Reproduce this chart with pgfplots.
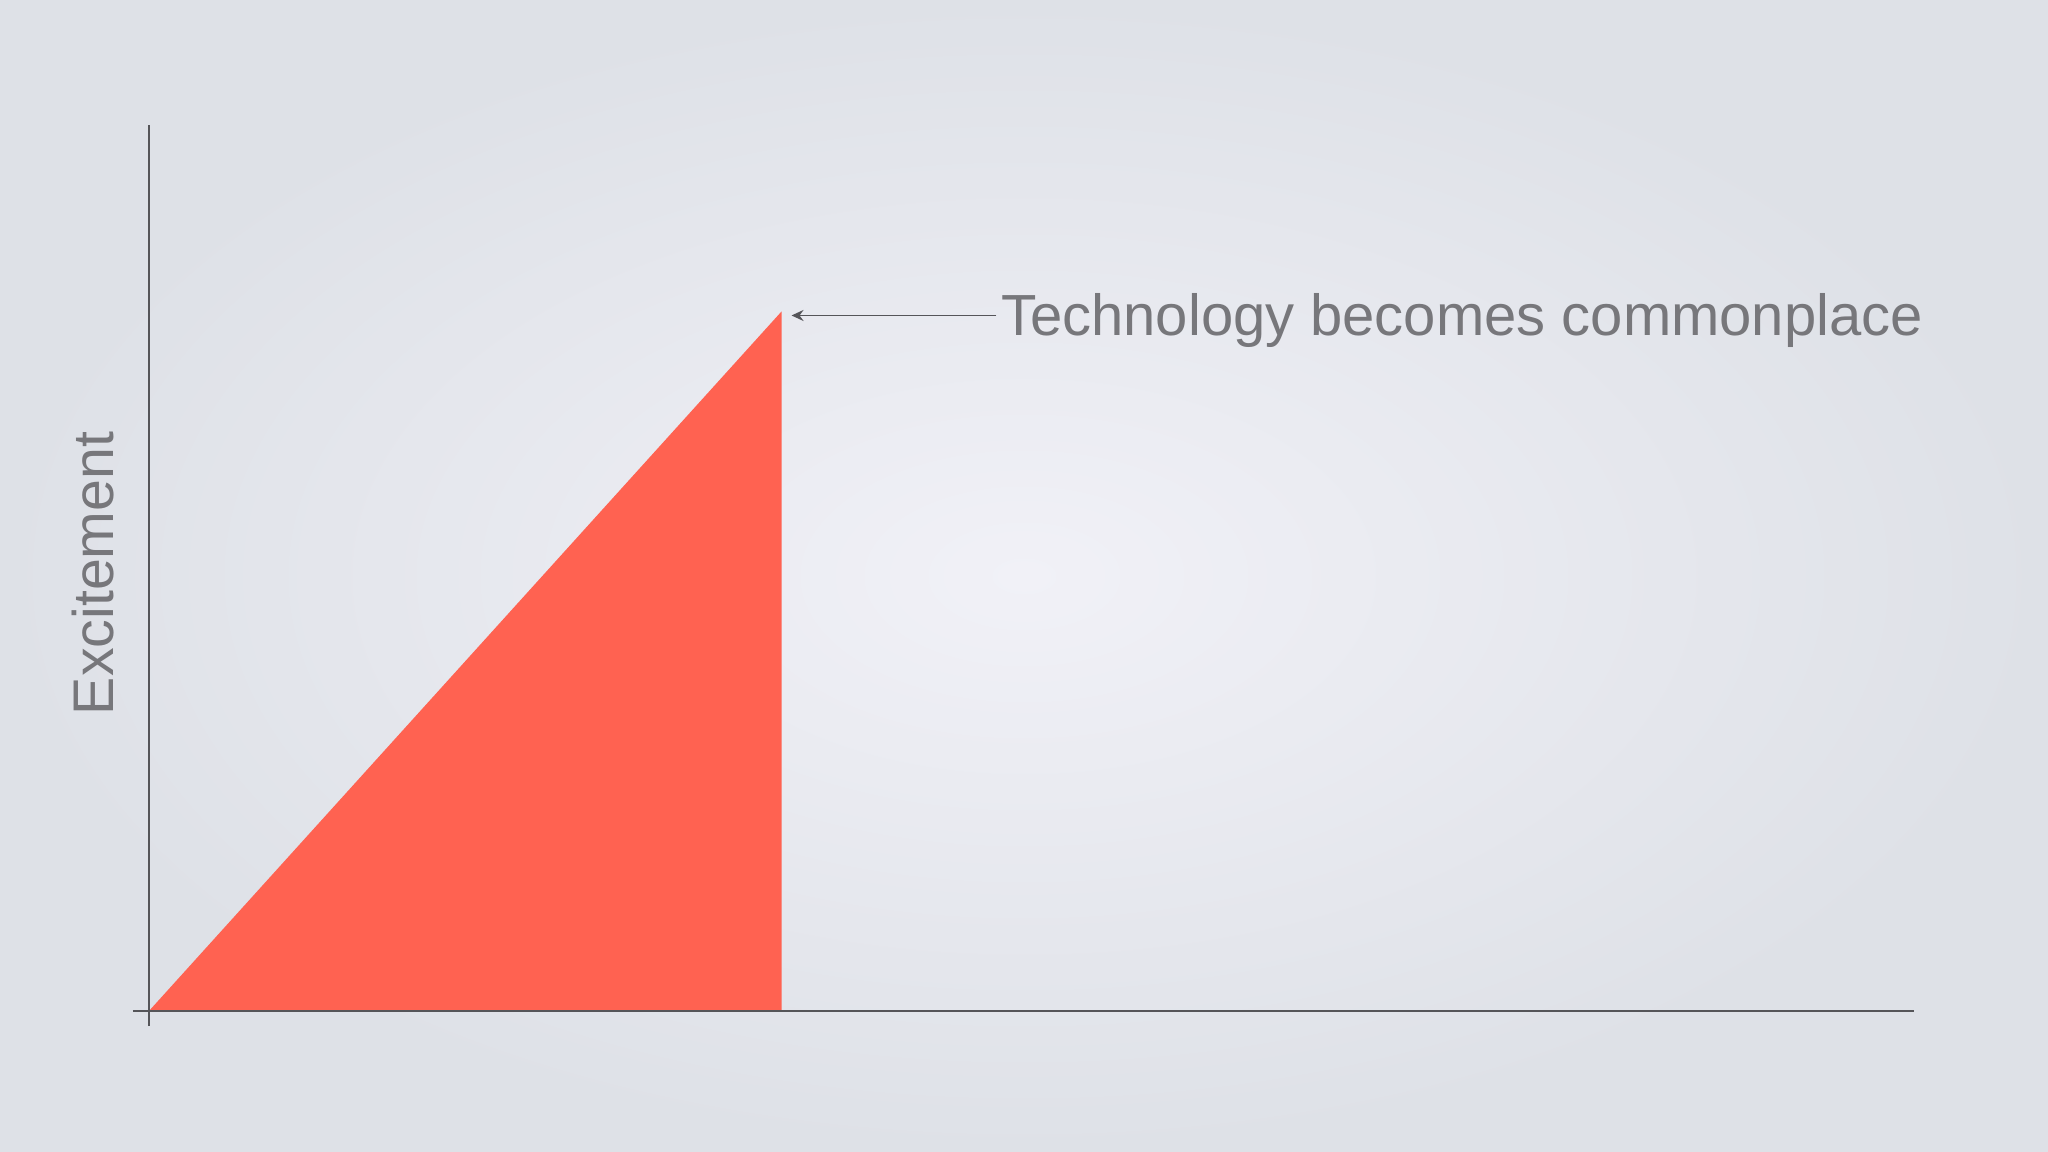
\documentclass[border=0pt]{standalone}
\usepackage{pgfplots}
\pgfplotsset{compat=1.18}
\usepackage{fontspec}
\setmainfont{Liberation Sans}
\usetikzlibrary{arrows.meta}
\definecolor{bgin}{HTML}{F1F1F7}
\definecolor{bgout}{HTML}{DEE1E7}
\definecolor{tri}{HTML}{FF6251}
\definecolor{axc}{HTML}{555559}
\definecolor{txt}{HTML}{77777B}
\begin{document}
\begin{tikzpicture}
\shade[inner color=bgin, outer color=bgout] (0,0) rectangle (20.48cm,11.52cm);
\begin{axis}[
  at={(0,0)}, anchor=south west,
  x=0.01cm, y=0.01cm,
  xmin=-149, xmax=1899, ymin=-141, ymax=1011,
  hide axis, clip=false,
]
\addplot[fill=tri, draw=none] coordinates {(0,0) (633,700) (633,0)} -- cycle;
\draw[axc, line width=0.6pt] (axis cs:0,-15) -- (axis cs:0,887);
\draw[axc, line width=0.6pt] (axis cs:-16,0) -- (axis cs:1766,0);
\draw[axc, line width=0.55pt, -{Stealth[length=0.12cm,width=0.11cm,inset=0.04cm]}] (axis cs:848,696) -- (axis cs:643,696);
\node[anchor=base west, inner sep=0pt, text=txt, font=\fontsize{16.5pt}{19pt}\selectfont] at (axis cs:852,676) {Technology becomes commonplace};
\node[anchor=base, rotate=90, inner sep=0pt, text=txt, font=\fontsize{16.3pt}{19pt}\selectfont] at (axis cs:-35,438) {Excitement};
\end{axis}
\pgfresetboundingbox
\useasboundingbox (0,0) rectangle (20.48cm,11.52cm);
\end{tikzpicture}
\end{document}
